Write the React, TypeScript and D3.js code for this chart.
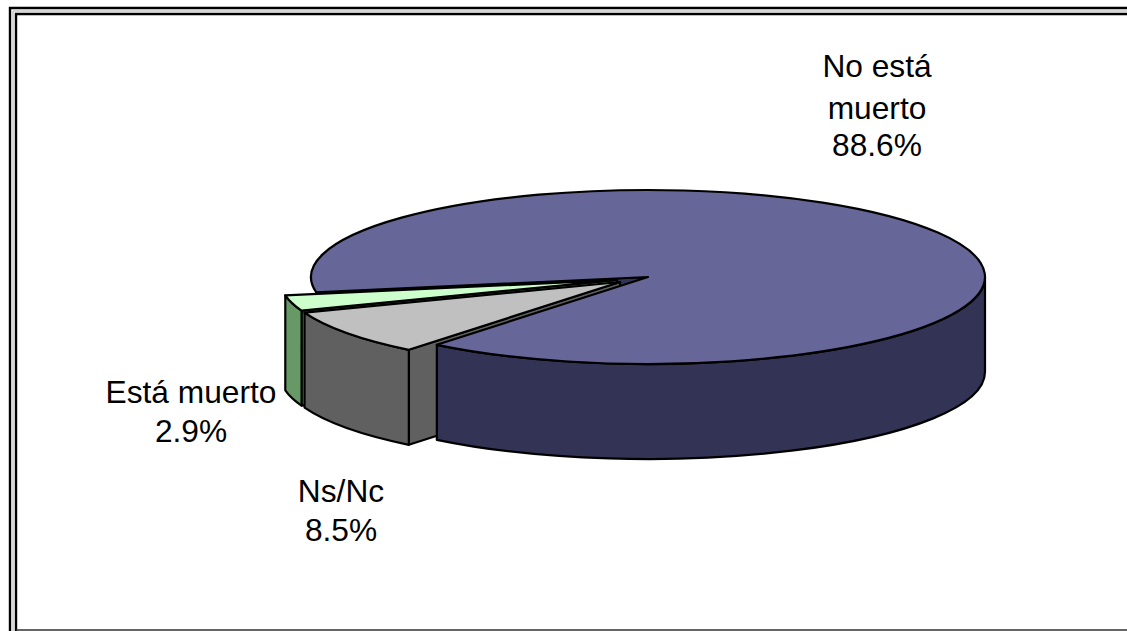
import React from "react";
import * as d3 from "d3";

// pie order, going against the clock on screen from the main slice
const labels = ["No está muerto", "Está muerto", "Ns/Nc"];
const values = [88.6, 2.9, 8.5];

const width = 1127;
const height = 631;
const cx = 648;
const cy = 277;
const rx = 337;
const ry = 87;
const depth = 95;
const startDeg = 128.8; // where the main slice begins, clockwise from 3 o'clock

const topColors = ["#666699", "#ccffcc", "#c0c0c0"];
const wallColors = ["#333355", "#669966", "#606060"];
const offsets = [
  [0, 0],
  [-31, 3],
  [-28, 5],
];
const textSpots = [
  { x: 877, ys: [77, 119, 156], lines: ["No está", "muerto", "88.6%"] },
  { x: 341, ys: [502, 541], lines: ["Ns/Nc", "8.5%"] },
  { x: 191, ys: [403, 442], lines: ["Está muerto", "2.9%"] },
];

const pie = d3
  .pie<number>()
  .sort(null)
  .startAngle(0)
  .endAngle(2 * Math.PI);

// the pie runs against the clock on screen, starting at startDeg
const toParam = (a: number) => (startDeg * Math.PI) / 180 - a;

const pt = (c: number[], t: number, dy = 0) =>
  [c[0] + rx * Math.cos(t), c[1] + ry * Math.sin(t) + dy] as [number, number];

const sliceTop = (c: number[], t0: number, t1: number) => {
  const a = pt(c, t0);
  const b = pt(c, t1);
  const large = Math.abs(t1 - t0) > Math.PI ? 1 : 0;
  return `M${c[0]},${c[1]}L${a[0]},${a[1]}A${rx},${ry} 0 ${large} 0 ${b[0]},${b[1]}Z`;
};

// outer wall between two params, t0 > t1, both on the front half
const sliceWall = (c: number[], t0: number, t1: number) => {
  const a = pt(c, t0);
  const b = pt(c, t1);
  const bb = pt(c, t1, depth);
  const aa = pt(c, t0, depth);
  return `M${a[0]},${a[1]}A${rx},${ry} 0 0 0 ${b[0]},${b[1]}L${bb[0]},${bb[1]}A${rx},${ry} 0 0 1 ${aa[0]},${aa[1]}Z`;
};

const cutWall = (c: number[], t: number) => {
  const a = pt(c, t);
  return `M${c[0]},${c[1]}L${a[0]},${a[1]}L${a[0]},${a[1] + depth}L${c[0]},${c[1] + depth}Z`;
};

const App: React.FC = () => {
  const arcs = pie(values);
  const centers = offsets.map((o) => [cx + o[0], cy + o[1]]);
  const params = arcs.map((d) => ({
    t0: toParam(d.startAngle),
    t1: toParam(d.endAngle),
  }));
  const stroke = { stroke: "#000", strokeWidth: 2.2, strokeLinejoin: "round" as const };

  // order: back of the main slice, thin slices, then main slice on top
  const drawSlice = (i: number) => {
    const c = centers[i];
    const { t0, t1 } = params[i];
    return (
      <g key={labels[i]}>
        <path d={cutWall(c, t1)} fill={wallColors[i]} {...stroke} />
        <path d={sliceWall(c, t0, t1)} fill={wallColors[i]} {...stroke} />
        <path d={sliceTop(c, t0, t1)} fill={topColors[i]} {...stroke} />
      </g>
    );
  };

  const main = centers[0];
  const mainT0 = params[0].t0;
  const mainT1 = params[0].t1;

  return (
    <svg
      width={width}
      height={height}
      style={{ position: "absolute", left: 0, top: 0, display: "block", background: "#fff" }}
    >
      {/* double frame, clipped by the picture on the right and bottom */}
      <path d={`M${width},8H10V${height}`} fill="none" stroke="#000" strokeWidth={2.4} />
      <path d={`M${width},14H16V${height}`} fill="none" stroke="#000" strokeWidth={2.4} />
      <path d={`M${width},11H13V${height}`} fill="none" stroke="#999" strokeWidth={0.8} />
      <line x1={16} x2={width} y1={630} y2={630} stroke="#333" strokeWidth={1.5} />

      {/* main slice back cut wall */}
      <path d={cutWall(main, mainT1)} fill={wallColors[0]} {...stroke} />
      {drawSlice(1)}
      {drawSlice(2)}
      {/* main slice front wall, only the visible part */}
      <path d={sliceWall(main, mainT0, 0)} fill={wallColors[0]} {...stroke} />
      <path d={sliceTop(main, mainT0, mainT1)} fill={topColors[0]} {...stroke} />

      <g fontFamily="Liberation Sans, Arial, sans-serif" fontSize={31.7} fill="#000" textAnchor="middle">
        {textSpots.map((s) =>
          s.lines.map((line, j) => (
            <text key={line} x={s.x} y={s.ys[j]}>
              {line}
            </text>
          ))
        )}
      </g>
    </svg>
  );
};

export default App;
